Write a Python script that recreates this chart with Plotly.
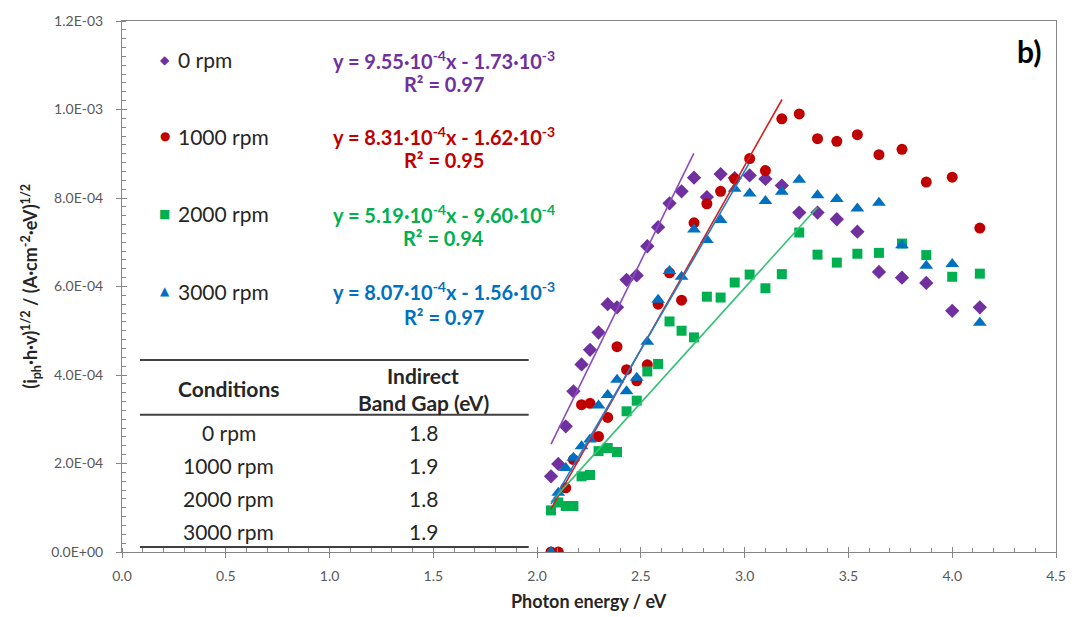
import plotly.graph_objects as go

# ---------------- data ----------------
photon_energy = [2.067, 2.102, 2.138, 2.175, 2.214, 2.255, 2.296, 2.340, 2.385, 2.431,
                 2.480, 2.531, 2.583, 2.638, 2.696, 2.756, 2.818, 2.884, 2.952, 3.024,
                 3.100, 3.179, 3.263, 3.351, 3.444, 3.543, 3.647, 3.758, 3.875, 4.000, 4.133]

y_0rpm = [1.71e-4, 1.99e-4, 2.84e-4, 3.63e-4, 4.24e-4, 4.57e-4, 4.96e-4, 5.60e-4, 5.53e-4, 6.15e-4,
          6.25e-4, 6.91e-4, 7.34e-4, 7.88e-4, 8.15e-4, 8.46e-4, 8.02e-4, 8.54e-4, 8.45e-4, 8.51e-4,
          8.43e-4, 8.28e-4, 7.67e-4, 7.67e-4, 7.52e-4, 7.24e-4, 6.33e-4, 6.20e-4, 6.08e-4, 5.45e-4, 5.53e-4]

y_1000rpm = [0.0, 0.0, 1.45e-4, 2.09e-4, 3.33e-4, 3.36e-4, 2.61e-4, 3.04e-4, 4.64e-4, 4.12e-4,
             3.87e-4, 4.23e-4, 5.60e-4, 6.31e-4, 5.69e-4, 7.44e-4, 7.87e-4, 8.15e-4, 8.43e-4, 8.89e-4,
             8.62e-4, 9.79e-4, 9.90e-4, 9.34e-4, 9.28e-4, 9.43e-4, 8.98e-4, 9.10e-4, 8.36e-4, 8.47e-4, 7.32e-4]

y_2000rpm = [0.94e-4, 1.12e-4, 1.04e-4, 1.04e-4, 1.71e-4, 1.74e-4, 2.28e-4, 2.35e-4, 2.26e-4, 3.18e-4,
             3.42e-4, 4.08e-4, 4.25e-4, 5.21e-4, 5.00e-4, 4.85e-4, 5.77e-4, 5.75e-4, 6.09e-4, 6.27e-4,
             5.96e-4, 6.28e-4, 7.22e-4, 6.72e-4, 6.54e-4, 6.74e-4, 6.76e-4, 6.97e-4, 6.71e-4, 6.22e-4, 6.29e-4]

y_3000rpm = [0.0, 1.34e-4, 1.90e-4, 2.13e-4, 2.39e-4, 2.54e-4, 3.31e-4, 3.55e-4, 3.89e-4, 3.63e-4,
             3.94e-4, 4.75e-4, 5.70e-4, 6.35e-4, 6.22e-4, 7.29e-4, 7.05e-4, 7.50e-4, 8.21e-4, 8.10e-4,
             7.93e-4, 8.14e-4, 8.41e-4, 8.06e-4, 7.98e-4, 7.76e-4, 7.89e-4, 6.93e-4, 6.47e-4, 6.51e-4, 5.18e-4]

series_names = ["0 rpm", "1000 rpm", "2000 rpm", "3000 rpm"]
fit_slope = [9.55e-4, 8.31e-4, 5.19e-4, 8.07e-4]
fit_intercept = [-1.73e-3, -1.62e-3, -9.60e-4, -1.56e-3]
fit_r2 = ["0.97", "0.95", "0.94", "0.97"]
fit_eq_text = ["y = 9.55·10<sup>-4</sup>x - 1.73·10<sup>-3</sup>",
               "y = 8.31·10<sup>-4</sup>x - 1.62·10<sup>-3</sup>",
               "y = 5.19·10<sup>-4</sup>x - 9.60·10<sup>-4</sup>",
               "y = 8.07·10<sup>-4</sup>x - 1.56·10<sup>-3</sup>"]
fit_x_start = [2.067, 2.067, 2.067, 2.067]
fit_x_end = [2.755, 3.18, 3.35, 3.02]

table_conditions = ["0 rpm", "1000 rpm", "2000 rpm", "3000 rpm"]
table_band_gap = ["1.8", "1.9", "1.8", "1.9"]

x_tick_vals = [0.0, 0.5, 1.0, 1.5, 2.0, 2.5, 3.0, 3.5, 4.0, 4.5]
y_tick_vals = [0.0, 2e-4, 4e-4, 6e-4, 8e-4, 1.0e-3, 1.2e-3]
y_tick_text = ["0.0E+00", "2.0E-04", "4.0E-04", "6.0E-04", "8.0E-04", "1.0E-03", "1.2E-03"]

# ---------------- styling ----------------
colors = ["#7030A0", "#C00000", "#00B050", "#0070C0"]
line_colors = ["#8B4CC0", "#D42020", "#35C275", "#1E7FD0"]
symbols = ["diamond", "circle", "square", "triangle-up"]
sizes = [11, 11, 10, 12]
legend_glyphs = ["◆", "●", "■", "▲"]

W, H = 1078, 617
L, R, T, B = 122, 19, 18, 65
PW, PH = W - L - R, H - T - B
FONT = "Lato"
AXC = "#868686"


def px(xp):
    return (xp - L) / PW


def py(yp):
    return (H - B - yp) / PH


fig = go.Figure()

ys = [y_0rpm, y_1000rpm, y_2000rpm, y_3000rpm]
for i in range(4):
    fig.add_trace(go.Scatter(
        x=photon_energy, y=ys[i], mode="markers", name=series_names[i],
        marker=dict(symbol=symbols[i], size=sizes[i], color=colors[i], line=dict(width=0)),
        showlegend=False))

for i in range(4):
    xs = [fit_x_start[i], fit_x_end[i]]
    yl = [fit_slope[i] * v + fit_intercept[i] for v in xs]
    fig.add_trace(go.Scatter(x=xs, y=yl, mode="lines", xaxis="x2", yaxis="y2",
                             line=dict(color=line_colors[i], width=1.6), showlegend=False,
                             hoverinfo="skip"))

ann = []


def add(x, y, text, font, xanchor="center", **kw):
    d = dict(x=px(x), y=py(y), text=text, showarrow=False, font=font,
             xanchor=xanchor, yanchor="middle", xref="paper", yref="paper",
             borderpad=0)
    d.update(kw)
    ann.append(d)


legend_y = [57, 134, 212, 290]
r2_y = [81, 158, 236, 316]
for i in range(4):
    add(165, legend_y[i], legend_glyphs[i],
        dict(family="DejaVu Sans", size=12, color=colors[i]))
    add(177, legend_y[i], series_names[i],
        dict(family=FONT, size=21, color="#262626"), xanchor="left")
    add(445, legend_y[i], "<b>" + fit_eq_text[i] + "</b>",
        dict(family=FONT, size=20, color=colors[i]))
    add(445, r2_y[i], "<b>R² = " + fit_r2[i] + "</b>",
        dict(family=FONT, size=20, color=colors[i]))

# table
tfont = dict(family=FONT, size=21, color="#262626")
add(229, 388, "<b>Conditions</b>", tfont)
add(424, 374, "<b>Indirect</b>", tfont)
add(424, 402, "<b>Band Gap (eV)</b>", tfont)
row_y = [432, 465, 498, 531]
for i in range(4):
    add(229, row_y[i], table_conditions[i], tfont)
    add(424, row_y[i], table_band_gap[i], tfont)

add(1032, 48, "<b>b)</b>", dict(family=FONT, size=30, color="#000000"))
add(590, 601, "<b>Photon energy / eV</b>", dict(family=FONT, size=18, color="#262626"))
add(30, 285, "<b>(i<sub>ph</sub>·h·v)<sup>1/2</sup> / (A·cm<sup>-2</sup>·eV)<sup>1/2</sup></b>",
    dict(family=FONT, size=18, color="#262626"), textangle=-90)

shapes = []
for yl in [359, 414, 547]:
    shapes.append(dict(type="line", xref="paper", yref="paper", x0=px(140), x1=px(530),
                       y0=py(yl), y1=py(yl), line=dict(color="#404040", width=2)))

XR = [0, 4.5]
YR = [0, 1.2e-3]
fig.update_layout(
    width=W, height=H, autosize=False,
    margin=dict(l=L, r=R, t=T, b=B, pad=0),
    paper_bgcolor="white", plot_bgcolor="white",
    font=dict(family=FONT, size=14, color="#595959"),
    xaxis=dict(range=XR, tickvals=x_tick_vals, tickformat=".1f", showgrid=False, zeroline=False,
               showline=True, linecolor=AXC, linewidth=1, mirror=True,
               ticks="outside", ticklen=5, tickcolor=AXC, ticklabelstandoff=6,
               minor=dict(dtick=0.1, ticks="inside", ticklen=4, tickcolor=AXC, showgrid=False),
               tickfont=dict(family=FONT, size=14, color="#595959")),
    yaxis=dict(range=YR, tickvals=y_tick_vals, ticktext=y_tick_text, showgrid=False, zeroline=False,
               showline=True, linecolor=AXC, linewidth=1, mirror=True,
               ticks="outside", ticklen=5, tickcolor=AXC, ticklabelstandoff=10,
               minor=dict(dtick=2e-5, ticks="inside", ticklen=4, tickcolor=AXC, showgrid=False),
               tickfont=dict(family=FONT, size=14, color="#595959")),
    xaxis2=dict(range=XR, overlaying="x", anchor="y", showticklabels=False, showgrid=False,
                zeroline=False, showline=False, tickvals=x_tick_vals, ticks="inside",
                ticklen=5, tickcolor=AXC),
    yaxis2=dict(range=YR, overlaying="y", anchor="x", showticklabels=False, showgrid=False,
                zeroline=False, showline=False, tickvals=y_tick_vals, ticks="inside",
                ticklen=5, tickcolor=AXC),
    annotations=ann, shapes=shapes,
)

fig.write_html("out.html", config={"displayModeBar": False},
               post_script="document.body.style.margin='0';document.body.style.padding='0';")
